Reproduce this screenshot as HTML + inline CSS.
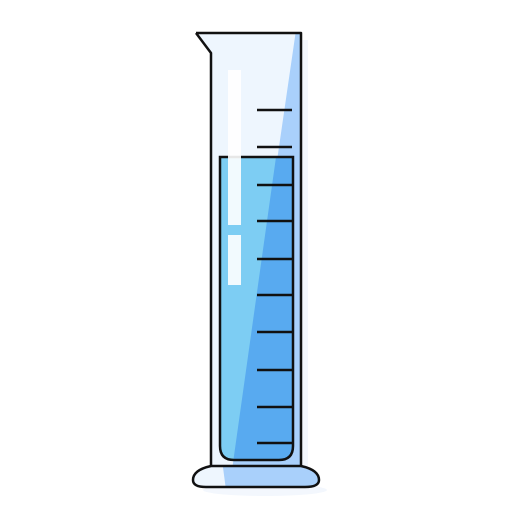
<!DOCTYPE html>
<html><head><meta charset="utf-8"><style>html,body{margin:0;padding:0;background:#fff;}svg{display:block}</style></head>
<body>
<svg id="c" width="512" height="512" viewBox="0 0 512 512">
<defs>
<clipPath id="glass"><path d="M196,33 L301,33 L301,466 L211,466 L211,53 Z"/></clipPath>
<clipPath id="liq"><path d="M220,157 L293,157 L293,446 Q293,460 279,460 L234,460 Q220,460 220,446 Z"/></clipPath>
<clipPath id="base"><path d="M211,466 L301,466 Q319,470 319,480 Q319,487 305,487 L206,487 Q193,487 193,480 Q193,470 211,466 Z"/></clipPath>
</defs>
<rect x="301" y="40" width="7" height="430" fill="#f3f7fd"/>
<ellipse cx="265" cy="490" rx="62" ry="6" fill="#f3f7fd"/>
<g clip-path="url(#glass)">
<rect x="190" y="30" width="120" height="440" fill="#eef6fe"/>
<path d="M296,30 L320,30 L320,470 L232,470 Z" fill="#a9d0fb"/>
</g>
<g clip-path="url(#liq)">
<rect x="215" y="150" width="85" height="315" fill="#7dcdf3"/>
<path d="M277,150 L320,150 L320,470 L232,470 Z" fill="#58aaf0"/>
</g>
<path d="M220,157 L293,157 L293,446 Q293,460 279,460 L234,460 Q220,460 220,446 Z" fill="none" stroke="#111" stroke-width="2.5"/>
<rect x="228" y="70" width="13" height="155" fill="#fff" opacity="0.9"/>
<rect x="228" y="235" width="13" height="50" fill="#fff" opacity="0.9"/>
<g id="ticks"></g>
<g clip-path="url(#base)">
<rect x="190" y="460" width="135" height="30" fill="#eef6fe"/>
<path d="M222,460 L330,460 L330,490 L226,490 Z" fill="#a9d0fb"/>
</g>
<path d="M211,466 L301,466 Q319,470 319,480 Q319,487 305,487 L206,487 Q193,487 193,480 Q193,470 211,466 Z" fill="none" stroke="#111" stroke-width="2.5"/>
<path d="M196,33 L301,33 L301,466 M211,466 L211,53 L196,33" fill="none" stroke="#111" stroke-width="2.5" stroke-linejoin="round"/>
</svg>
<script>
const tickLevels = [110,147,185,221,259,295,332,370,407,443];
const g = document.getElementById('ticks');
tickLevels.forEach(y => {
  const l = document.createElementNS('http://www.w3.org/2000/svg','line');
  l.setAttribute('x1',257); l.setAttribute('x2',292);
  l.setAttribute('y1',y); l.setAttribute('y2',y);
  l.setAttribute('stroke','#111'); l.setAttribute('stroke-width','2.5');
  
  
  g.appendChild(l);
});
</script>
</body></html>
